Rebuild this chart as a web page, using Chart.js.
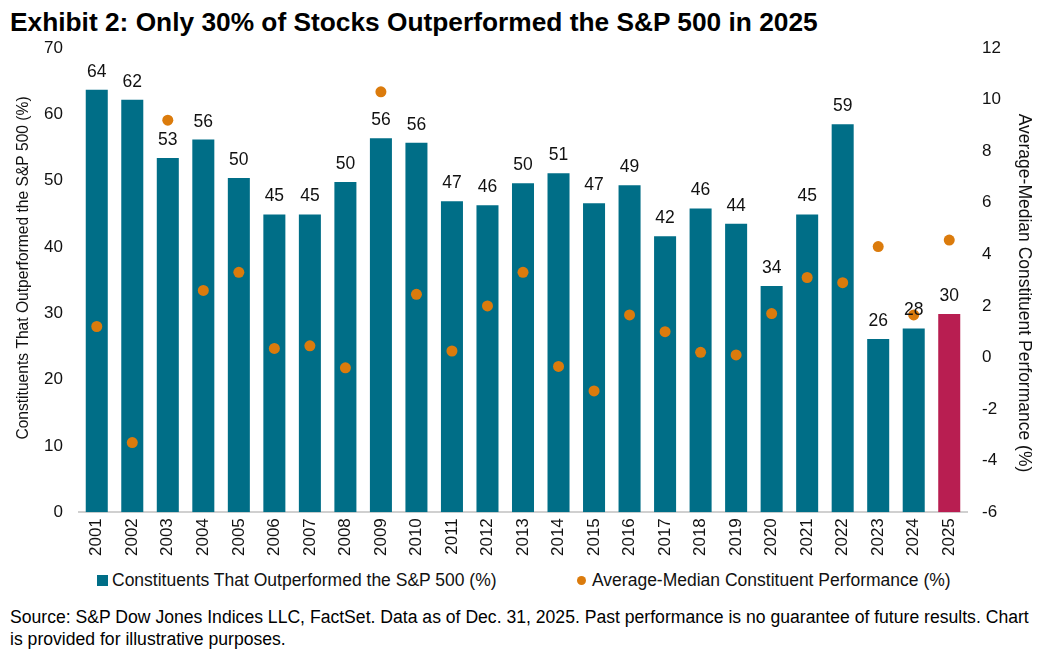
<!DOCTYPE html>
<html>
<head>
<meta charset="utf-8">
<script src="https://cdn.jsdelivr.net/npm/chart.js@4"></script>
<style>
  body { margin: 0; background: #fff; font-family: "Liberation Sans", Arial, sans-serif; }
  #title { position: absolute; left: 10px; top: 7px; font-size: 26.3px; line-height: 30px; font-weight: bold; color: #000; white-space: nowrap; }
  #wrap { position: absolute; left: 0; top: 0; width: 1045px; height: 562px; }
  #legend { position: absolute; top: 569px; left: 0; width: 1045px; height: 22px; font-size: 17.5px; line-height: 22px; color: #111; }
  .item { position: absolute; top: 0; white-space: nowrap; }
  .mark { display: inline-block; vertical-align: middle; margin-right: 4px; position: relative; top: -1px; }
  #note { position: absolute; left: 10px; top: 606px; width: 1030px; font-size: 17.6px; line-height: 22px; color: #000; }
</style>
</head>
<body>
<div id="title">Exhibit 2: Only 30% of Stocks Outperformed the S&amp;P 500 in 2025</div>
<div id="wrap"><canvas id="myChart"></canvas></div>
<div id="legend"></div>
<div id="note">Source: S&amp;P Dow Jones Indices LLC, FactSet. Data as of Dec. 31, 2025. Past performance is no guarantee of future results. Chart is provided for illustrative purposes.</div>
<script>
const years = ['2001','2002','2003','2004','2005','2006','2007','2008','2009','2010','2011','2012','2013',
  '2014','2015','2016','2017','2018','2019','2020','2021','2022','2023','2024','2025'];

// share of constituents beating the index (%)
const outperformed = [63.7, 62.2, 53.4, 56.2, 50.4, 44.9, 44.9, 49.8, 56.4, 55.7, 46.9, 46.3, 49.6,
  51.1, 46.6, 49.3, 41.6, 45.8, 43.5, 34.1, 44.9, 58.5, 26.1, 27.7, 29.9];

// average minus median constituent return (%)
const avgMedian = [1.2, -3.3, 9.2, 2.6, 3.3, 0.35, 0.45, -0.4, 10.3, 2.45, 0.25, 2.0, 3.3,
  -0.35, -1.3, 1.65, 1.0, 0.2, 0.1, 1.7, 3.1, 2.9, 4.3, 1.65, 4.55];

const leftTicks = [0, 10, 20, 30, 40, 50, 60, 70];
const rightTicks = [-6, -4, -2, 0, 2, 4, 6, 8, 10, 12];

const leftTitle = 'Constituents That Outperformed the S&P 500 (%)';
const rightTitle = 'Average-Median Constituent Performance (%)';

const teal = '#006E87';
const magenta = '#B81E51';
const orange = '#DB7B0C';

const barColors = years.map((y, i) => i === years.length - 1 ? magenta : teal);

const barLabels = {
    id: 'barLabels',
    afterDatasetsDraw(chart) {
        const ctx = chart.ctx;
        const meta = chart.getDatasetMeta(1);
        ctx.save();
        ctx.font = '17.5px "Liberation Sans", Arial, sans-serif';
        ctx.fillStyle = '#111';
        ctx.textAlign = 'center';
        ctx.textBaseline = 'alphabetic';
        meta.data.forEach((bar, i) => {
            ctx.fillText(Math.round(outperformed[i]), bar.x, bar.y - 13);
        });
        ctx.restore();
    }
};

// axis titles drawn by hand so they sit where the original has them
const axisTitles = {
    id: 'axisTitles',
    afterDraw(chart) {
        const ctx = chart.ctx;
        ctx.save();
        ctx.fillStyle = '#111';
        ctx.textAlign = 'center';
        ctx.textBaseline = 'middle';

        ctx.font = '15.6px "Liberation Sans", Arial, sans-serif';
        ctx.translate(24, 268);
        ctx.rotate(-Math.PI / 2);
        ctx.fillText(leftTitle, 0, 0);
        ctx.restore();

        ctx.save();
        ctx.fillStyle = '#111';
        ctx.textAlign = 'center';
        ctx.textBaseline = 'middle';
        ctx.font = '17.5px "Liberation Sans", Arial, sans-serif';
        ctx.translate(1024, 293);
        ctx.rotate(Math.PI / 2);
        ctx.fillText(rightTitle, 0, 0);
        ctx.restore();
    }
};

Chart.defaults.font.family = '"Liberation Sans", Arial, sans-serif';
Chart.defaults.color = '#111';

const data = {
    labels: years,
    datasets: [{
        type: 'line',
        label: rightTitle,
        data: avgMedian,
        yAxisID: 'y2',
        showLine: false,
        pointRadius: 5.5,
        pointHoverRadius: 5.5,
        pointBackgroundColor: orange,
        pointBorderWidth: 0,
        backgroundColor: orange,
        borderColor: orange
    }, {
        type: 'bar',
        label: leftTitle,
        data: outperformed,
        backgroundColor: barColors,
        yAxisID: 'y',
        categoryPercentage: 1,
        barPercentage: 0.62
    }]
};

const config = {
    data: data,
    options: {
        responsive: true,
        maintainAspectRatio: false,
        animation: false,
        layout: { padding: { top: 48, left: 8, right: 3, bottom: 0 } },
        plugins: {
            legend: { display: false },
            tooltip: { enabled: false },
            title: { display: false }
        },
        scales: {
            x: {
                grid: { display: false, drawTicks: false },
                border: { color: '#d0d0d0', width: 2 },
                ticks: { minRotation: 90, maxRotation: 90, font: { size: 17 }, padding: 6 }
            },
            y: {
                position: 'left',
                min: 0, max: 70,
                afterBuildTicks: (axis) => { axis.ticks = leftTicks.map(v => ({ value: v })); },
                afterFit: (axis) => { axis.width = 71; },
                grid: { display: false, drawTicks: false },
                border: { display: false },
                ticks: { font: { size: 17 }, padding: 16 }
            },
            y2: {
                position: 'right',
                min: -6, max: 12,
                afterBuildTicks: (axis) => { axis.ticks = rightTicks.map(v => ({ value: v })); },
                afterFit: (axis) => { axis.width = 75; },
                grid: { display: false, drawTicks: false },
                border: { display: false },
                ticks: { font: { size: 17 }, padding: 15 }
            }
        }
    },
    plugins: [barLabels, axisTitles]
};

const ctx = document.getElementById('myChart').getContext('2d');
new Chart(ctx, config);

// legend below the chart, in the reference's order
const legend = document.getElementById('legend');
[
    { text: leftTitle, color: teal, left: 97, shape: 'square' },
    { text: rightTitle, color: orange, left: 577, shape: 'dot' }
].forEach(it => {
    const el = document.createElement('div');
    el.className = 'item';
    el.style.left = it.left + 'px';
    const m = document.createElement('span');
    m.className = 'mark';
    if (it.shape === 'square') {
        m.style.cssText = 'width:11px;height:11px;background:' + it.color + ';';
    } else {
        m.style.cssText = 'width:9px;height:9px;border-radius:50%;background:' + it.color + ';margin-right:6px;';
    }
    el.appendChild(m);
    el.appendChild(document.createTextNode(it.text));
    legend.appendChild(el);
});
</script>
</body>
</html>
